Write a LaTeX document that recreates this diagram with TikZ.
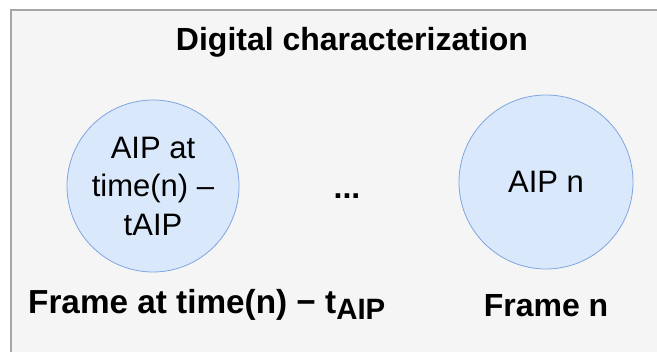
\documentclass[tikz,border=0pt]{standalone}
\usepackage{fontspec}
\setmainfont{Liberation Sans}
\definecolor{panelbg}{HTML}{F5F5F5}
\definecolor{panelline}{HTML}{A6A6A6}
\definecolor{aipfill}{HTML}{DAE8FC}
\definecolor{aipline}{HTML}{7EA6E0}
\tikzset{
  aip/.style={circle, draw=aipline, fill=aipfill, line width=0.8pt, minimum size=172pt, inner sep=0pt, align=center, font=\fontsize{31}{38.5}\selectfont},
  boldlabel/.style={inner sep=0pt, font=\bfseries\fontsize{32}{38}\selectfont}
}
\begin{document}
\begin{tikzpicture}[x=1pt,y=-1pt]
\useasboundingbox (0,0) rectangle (657,352);
\fill[white] (0,0) rectangle (657,352);
\draw[panelline, fill=panelbg, line width=1.5pt] (11,10) rectangle (670,365);
\node[boldlabel, anchor=base] (title) at (352,51) {Digital characterization};
\node[aip] (aipt) at (153,186) {AIP at\\time(n) –\\tAIP};
\node[aip, minimum size=174pt] (aipn) at (546,182) {AIP n};
\node[boldlabel, anchor=base] (dots) at (347,199) {...};
\node[boldlabel, font=\bfseries\fontsize{33.3}{38}\selectfont, anchor=base west] (framet) at (28,314) {Frame at time(n) − t\raisebox{-5.5pt}{\fontsize{29.4}{30}\selectfont AIP}};
\node[boldlabel, anchor=base] (framen) at (546,317) {Frame n};
\end{tikzpicture}
\end{document}
